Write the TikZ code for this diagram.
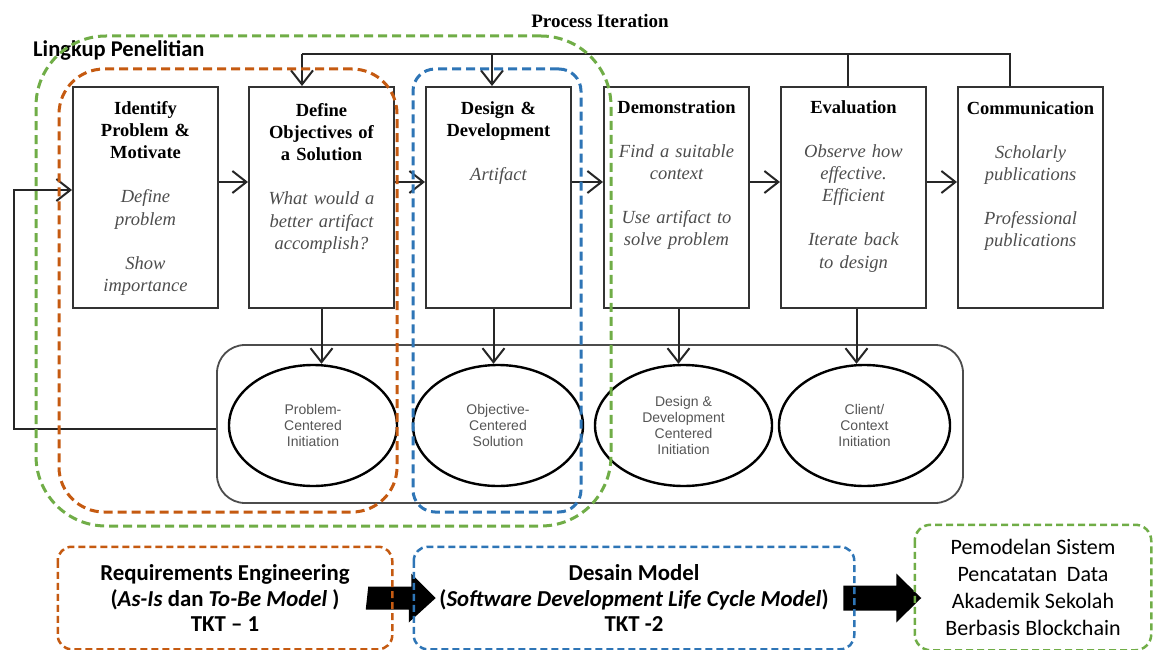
\documentclass[tikz,border=0pt]{standalone}
\usepackage{fontspec}
\setmainfont{Liberation Serif}
\newfontfamily\calibrifont{Carlito}
\newfontfamily\arialfont{Liberation Sans}
\usetikzlibrary{arrows.meta,shapes.geometric,calc}

\definecolor{scopeGreen}{HTML}{70AD47}
\definecolor{scopeOrange}{HTML}{C55A11}
\definecolor{scopeBlue}{HTML}{2E75B6}
\definecolor{bodyGray}{HTML}{4D4D4D}
\definecolor{ovalGray}{HTML}{555555}

\tikzset{
  stagebox/.style={draw=black!80, line width=2pt, anchor=north west, inner sep=0pt,
    minimum width=145pt, minimum height=221pt},
  stagetext/.style={anchor=north, align=center, inner sep=0pt, text width=150pt,
    font=\fontsize{18.5}{22.2}\selectfont},
  oval/.style={draw=black, line width=2.4pt, ellipse, inner sep=0pt,
    minimum height=121pt, align=center, text=ovalGray,
    font=\arialfont\fontsize{14}{16}\selectfont},
  arr/.style={line width=2pt, draw=black!85, -{Straight Barb[length=14pt,width=22pt]}},
  link/.style={line width=2pt, draw=black!85},
  scopebox/.style={line width=3pt, dash pattern=on 9pt off 5pt, inner sep=0pt},
  tktbox/.style={line width=2.5pt, dash pattern=on 7pt off 4pt, inner sep=0pt,
    rounded corners=14pt, align=center},
}
\newcommand\stagebody[1]{{\itshape\color{bodyGray}#1}}

\begin{document}
\begin{tikzpicture}[x=1pt,y=-1pt]
\useasboundingbox (0,0) rectangle (1153,650);

% headings
\node[font=\bfseries\fontsize{19}{22}\selectfont] (iter) at (600,21) {Process Iteration};
\node[anchor=west, inner sep=0pt, font=\calibrifont\bfseries\fontsize{22.5}{24}\selectfont]
  (scope) at (33,50) {Lingkup Penelitian};

% activity boxes
\node[stagebox] (b1) at (72,86) {};
\node[stagebox] (b2) at (248,86) {};
\node[stagebox] (b3) at (425,86) {};
\node[stagebox] (b4) at (603,86) {};
\node[stagebox] (b5) at (780,86) {};
\node[stagebox] (b6) at (957,86) {};

\node[stagetext] (t1) at ([yshift=-15pt]b1.north)
  {\textbf{Identify}\\\textbf{Problem \&}\\\textbf{Motivate}\\[22pt]
   \stagebody{Define}\\\stagebody{problem}\\[22pt]\stagebody{Show}\\\stagebody{importance}};
\node[stagetext] (t2) at ([yshift=-17pt]b2.north)
  {\textbf{Define}\\\textbf{Objectives of}\\\textbf{a Solution}\\[22pt]
   \stagebody{What would a}\\\stagebody{better artifact}\\\stagebody{accomplish?}};
\node[stagetext] (t3) at ([yshift=-15pt]b3.north)
  {\textbf{Design \&}\\\textbf{Development}\\[22pt]\stagebody{Artifact}};
\node[stagetext] (t4) at ([yshift=-14pt]b4.north)
  {\textbf{Demonstration}\\[22pt]
   \stagebody{Find a suitable}\\\stagebody{context}\\[22pt]
   \stagebody{Use artifact to}\\\stagebody{solve problem}};
\node[stagetext] (t5) at ([yshift=-14pt]b5.north)
  {\textbf{Evaluation}\\[22pt]
   \stagebody{Observe how}\\\stagebody{effective.}\\\stagebody{Efficient}\\[22pt]
   \stagebody{Iterate back}\\\stagebody{to design}};
\node[stagetext] (t6) at ([yshift=-15pt]b6.north)
  {\textbf{Communication}\\[22pt]
   \stagebody{Scholarly}\\\stagebody{publications}\\[22pt]
   \stagebody{Professional}\\\stagebody{publications}};

% forward flow
\draw[arr] ([yshift=15.5pt]b1.east) -- ([yshift=15.5pt]b2.west);
\draw[arr] ([yshift=15.5pt]b2.east) -- ([yshift=15.5pt]b3.west);
\draw[arr] ([yshift=15.5pt]b3.east) -- ([yshift=15.5pt]b4.west);
\draw[arr] ([yshift=15.5pt]b4.east) -- ([yshift=15.5pt]b5.west);
\draw[arr] ([yshift=15.5pt]b5.east) -- ([yshift=15.5pt]b6.west);

% process iteration feedback
\coordinate (itL) at (302,54);
\coordinate (itM) at (492,54);
\coordinate (itE) at (848,54);
\coordinate (itR) at (1010,54);
\draw[link] (itL) -- (itR) -- (itR |- b6.north);
\draw[link] (itE) -- (itE |- b5.north);
\draw[arr] (itL) -- (itL |- b2.north);
\draw[arr] (itM) -- (itM |- b3.north);

% entry points
\node[draw=black!70, line width=1.8pt, rounded corners=28pt, inner sep=0pt,
  minimum width=746pt, minimum height=158pt] (rr) at (590,424) {};
\node[oval, minimum width=168pt] (e1) at (313,425.5) {Problem-\\Centered\\Initiation};
\node[oval, minimum width=170pt] (e2) at (498,425.5) {Objective-\\Centered\\Solution};
\node[oval, minimum width=177pt] (e3) at (683.5,425.5) {Design \&\\Development\\Centered\\Initiation};
\node[oval, minimum width=171pt] (e4) at (864.5,425.5) {Client/\\Context\\Initiation};

\draw[arr] (b2.south) -- (b2.south |- e1.north);
\draw[arr] ([xshift=-5pt]b3.south) -- ([xshift=-5pt]b3.south |- e2.north);
\draw[arr] ([xshift=2pt]b4.south) -- ([xshift=2pt]b4.south |- e3.north);
\draw[arr] ([xshift=3pt]b5.south) -- ([xshift=3pt]b5.south |- e4.north);

% entry loop back to the first activity
\coordinate (fb) at (14,190);
\draw[arr] ([yshift=-5pt]rr.west) -| (fb) -- (fb -| b1.west);

% research scope outlines
\node[scopebox, draw=scopeGreen, rounded corners=70pt,
  minimum width=575pt, minimum height=490pt] (gscope) at (323.5,281) {};
\node[scopebox, draw=scopeOrange, rounded corners=45pt,
  minimum width=338pt, minimum height=443pt] (oscope) at (228,290.5) {};
\node[scopebox, draw=scopeBlue, rounded corners=22pt,
  minimum width=168pt, minimum height=443pt] (bscope) at (497,290.5) {};

% readiness levels
\node[tktbox, minimum width=332pt, minimum height=100pt,
  font=\calibrifont\bfseries\fontsize{22.8}{25.5}\selectfont] (rq) at (225,598)
  {Requirements Engineering\\(\textit{As-Is} dan \textit{To-Be Model} )\\TKT – 1};
\node[tktbox, minimum width=438pt, minimum height=100pt,
  font=\calibrifont\bfseries\fontsize{22.8}{25.5}\selectfont] (dm) at (634,598)
  {Desain Model\\(\textit{Software Development Life Cycle Model})\\TKT -2};
\node[tktbox, rounded corners=16pt, minimum width=234pt, minimum height=123pt,
  font=\calibrifont\fontsize{22}{27}\selectfont] (pm) at (1033,587.5)
  {Pemodelan Sistem\\Pencatatan\ \ Data\\Akademik Sekolah\\Berbasis Blockchain};

% block arrows between the levels
\fill[black] ([xshift=-24pt]rq.east) ++(0,-11.5) -- ++(43,0) -- ++(0,-13)
  -- ([xshift=22pt]dm.west) -- ++(-27,24.5) -- ++(0,-13) -- ++(-43,0) -- cycle;
\fill[black] ([xshift=-11pt]dm.east) ++(0,-12.5) -- ++(53,0) -- ++(0,-12)
  -- ([xshift=67pt]dm.east) -- ++(-25,24.5) -- ++(0,-12) -- ++(-53,0) -- cycle;

% outlines on top of the block arrows
\draw[line width=2.5pt, dash pattern=on 7pt off 4pt, draw=scopeOrange, rounded corners=14pt]
  (rq.north west) rectangle (rq.south east);
\draw[line width=2.5pt, dash pattern=on 7pt off 4pt, draw=scopeBlue, rounded corners=14pt]
  (dm.north west) rectangle (dm.south east);
\draw[line width=2.5pt, dash pattern=on 7pt off 4pt, draw=scopeGreen, rounded corners=16pt]
  (pm.north west) rectangle (pm.south east);
\end{tikzpicture}
\end{document}
